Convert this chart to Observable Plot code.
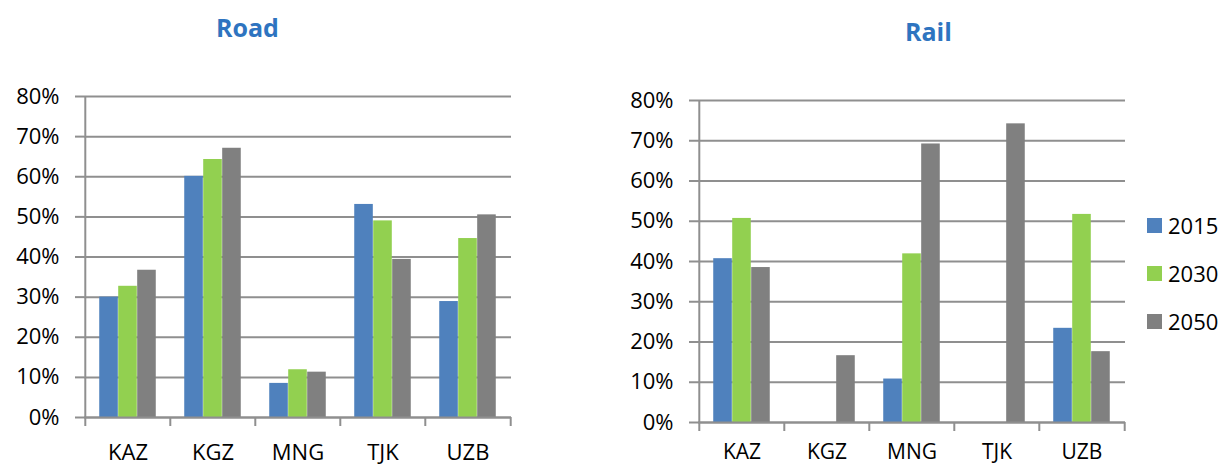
<!DOCTYPE html>
<html>
<head>
<meta charset="utf-8">
<script src="https://cdn.jsdelivr.net/npm/d3@7"></script>
<script src="https://cdn.jsdelivr.net/npm/@observablehq/plot@0.6"></script>
<style>
  html, body { margin: 0; padding: 0; background: #fff; }
  #wrap { position: relative; width: 1224px; height: 466px; overflow: hidden; font-family: "Open Sans", sans-serif; }
  .title { position: absolute; font-family: "Open Sans", sans-serif; font-weight: bold; font-size: 25px; color: #2E74C0; line-height: 1; }
  .chart { position: absolute; top: 0; }
  .legend { position: absolute; left: 1147px; top: 201px; font-size: 22px; color: #000; }
  .legend .item { display: flex; align-items: center; height: 48px; }
  .legend .sw { width: 15px; height: 15px; margin-right: 6px; }
</style>
</head>
<body>
<div id="wrap">
  <div class="title" id="t-road" style="left:216px; top:15px;">Road</div>
  <div class="title" id="t-rail" style="left:905px; top:19px;">Rail</div>
  <div class="chart" id="road" style="left:0px;"></div>
  <div class="chart" id="rail" style="left:600px;"></div>
  <div class="legend" id="legend"></div>
</div>
<script>
const countries = ["KAZ", "KGZ", "MNG", "TJK", "UZB"];
const years = ["2015", "2030", "2050"];
const colors = ["#4F81BD", "#92D050", "#808080"];
const yTicks = [0, 0.1, 0.2, 0.3, 0.4, 0.5, 0.6, 0.7, 0.8];

const road2015 = [0.300, 0.601, 0.085, 0.531, 0.289];
const road2030 = [0.327, 0.643, 0.119, 0.490, 0.446];
const road2050 = [0.367, 0.671, 0.113, 0.394, 0.505];

const rail2015 = [0.407, null, 0.108, null, 0.234];
const rail2030 = [0.507, null, 0.419, null, 0.517];
const rail2050 = [0.385, 0.166, 0.692, 0.742, 0.176];

const gridColor = "#8F8F8F";

function rows(series) {
  const out = [];
  series.forEach((vals, k) => {
    vals.forEach((v, i) => {
      if (v != null) out.push({country: countries[i], year: years[k], k, value: v});
    });
  });
  return out;
}

function chart(series, {width, height, marginLeft, marginRight, marginTop, marginBottom, labelPad, labelSize}) {
  const data = rows(series);
  const step = (width - marginLeft - marginRight) / countries.length;
  const groupPad = step / 6;
  const bw = step * 2 / 9;
  const marks = [
    Plot.gridY(yTicks, {stroke: gridColor, strokeOpacity: 1, strokeWidth: 2}),
    Plot.axisY(yTicks, {tickSize: 9, tickPadding: 16, tickFormat: d3.format(".0%"), stroke: gridColor, strokeWidth: 2, fill: "#000", fontSize: 22}),
    ...years.map((yr, k) => Plot.barY(data.filter(d => d.k === k), {
      x: "country", y1: 0, y2: "value", fill: colors[k],
      insetLeft: groupPad + k * bw, insetRight: step - groupPad - (k + 1) * bw
    })),
    Plot.ruleX([countries[0]], {x: d => d, dx: -step / 2, insetBottom: -9, stroke: gridColor, strokeWidth: 2}),
    Plot.ruleX(countries.slice(1), {x: d => d, dx: -step / 2, y1: 0, y2: 0, insetBottom: -9, stroke: gridColor, strokeWidth: 2}),
    Plot.ruleX([countries[countries.length - 1]], {x: d => d, dx: step / 2, y1: 0, y2: 0, insetBottom: -9, stroke: gridColor, strokeWidth: 2}),
    Plot.ruleY([0], {stroke: gridColor, strokeWidth: 2}),
    Plot.axisX({tickSize: 0, tickPadding: labelPad, fill: "#000", fontSize: labelSize})
  ];
  return Plot.plot({
    width, height, marginLeft, marginRight, marginTop, marginBottom,
    style: {fontFamily: "'Open Sans', sans-serif", fontSize: "22px", background: "transparent", overflow: "visible"},
    x: {type: "band", domain: countries, padding: 0, label: null},
    y: {domain: [0, 0.8], label: null},
    marks
  });
}

document.getElementById("road").appendChild(chart([road2015, road2030, road2050],
  {width: 530, height: 466, marginLeft: 84, marginRight: 19, marginTop: 96, marginBottom: 49, labelPad: 27, labelSize: 22}));
document.getElementById("rail").appendChild(chart([rail2015, rail2030, rail2050],
  {width: 540, height: 466, marginLeft: 98, marginRight: 15, marginTop: 100, marginBottom: 44, labelPad: 22, labelSize: 21}));

const legend = document.getElementById("legend");
years.forEach((yr, k) => {
  const item = document.createElement("div");
  item.className = "item";
  const sw = document.createElement("div");
  sw.className = "sw";
  sw.style.background = colors[k];
  const label = document.createElement("span");
  label.textContent = yr;
  item.appendChild(sw);
  item.appendChild(label);
  legend.appendChild(item);
});
</script>
</body>
</html>
